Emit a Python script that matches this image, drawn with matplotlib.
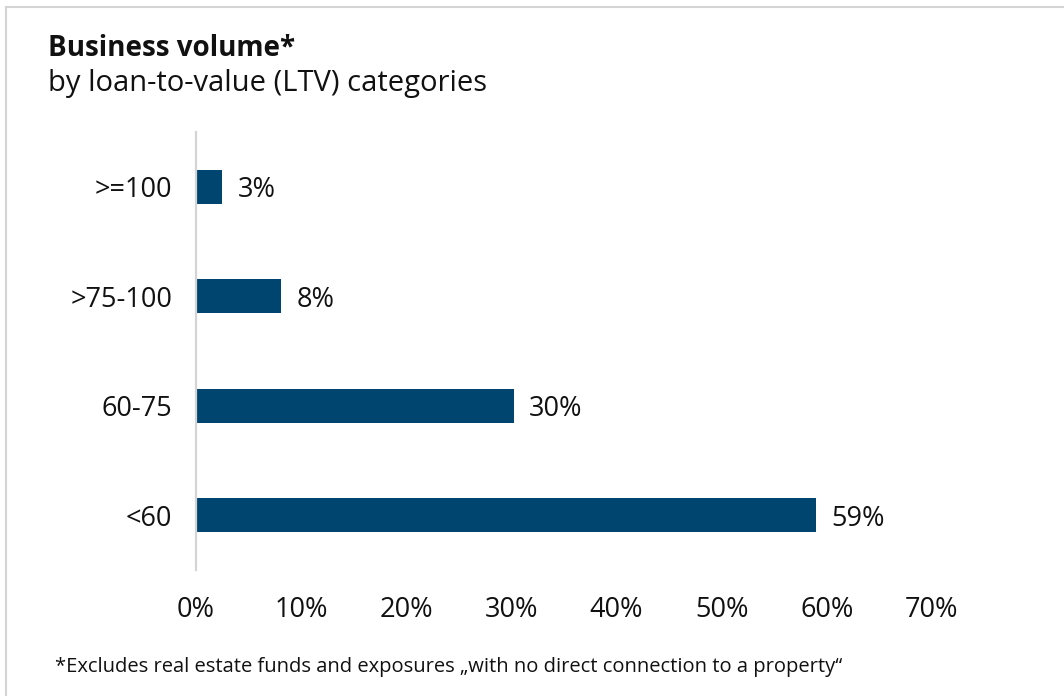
import matplotlib as mpl
import matplotlib.pyplot as plt
from matplotlib.lines import Line2D

mpl.rcParams['font.family'] = ['Open Sans', 'DejaVu Sans']

categories = ['<60', '60-75', '>75-100', '>=100']
shares = [59.0, 30.2, 8.1, 2.5]
value_labels = ['59%', '30%', '8%', '3%']
xticks = [0, 10, 20, 30, 40, 50, 60, 70]

bar_color = '#004470'
grid_gray = '#d4d4d4'

W, H = 1064, 696
fig = plt.figure(figsize=(W / 100, H / 100), dpi=100)
ax = fig.add_axes([196 / W, 1 - 570 / H, (932 - 196) / W, (570 - 132) / H])

ypos = list(range(len(categories)))
ax.barh(ypos, shares, height=0.31, color=bar_color)
for y, v, lab in zip(ypos, shares, value_labels):
    ax.annotate(lab, (v, y), xytext=(11, 0), textcoords='offset points',
                va='center_baseline', ha='left', fontsize=19.5, color='#111111')

ax.set_xlim(0, 70)
ax.set_ylim(-0.5, 3.5)
ax.set_xticks(xticks)
ax.set_xticklabels([f'{t}%' for t in xticks])
ax.set_yticks(ypos)
ax.set_yticklabels(categories)
ax.tick_params(axis='both', length=0, labelsize=19.5, colors='#111111')
ax.tick_params(axis='x', pad=19)
ax.tick_params(axis='y', pad=17)

for s in ['top', 'right', 'bottom']:
    ax.spines[s].set_visible(False)
ax.spines['left'].set_color(grid_gray)
ax.spines['left'].set_linewidth(1.6)

fig.text(48 / W, 1 - 56 / H, 'Business volume*', fontsize=20, fontweight='bold',
         color='#111111', ha='left', va='baseline')
fig.text(48 / W, 1 - 91 / H, 'by loan-to-value (LTV) categories', fontsize=21,
         color='#111111', ha='left', va='baseline')
fig.text(55 / W, 1 - 672 / H,
         '*Excludes real estate funds and exposures \u201ewith no direct connection to a property\u201c',
         fontsize=14.5, color='#111111', ha='left', va='baseline')

# light frame (top and left edges visible)
fig.add_artist(Line2D([6 / W, 6 / W], [0, 1 - 7 / H], transform=fig.transFigure,
                      color=grid_gray, lw=1.5))
fig.add_artist(Line2D([6 / W, 1], [1 - 7 / H, 1 - 7 / H], transform=fig.transFigure,
                      color=grid_gray, lw=1.5))

fig.savefig('out.png', dpi=100)
